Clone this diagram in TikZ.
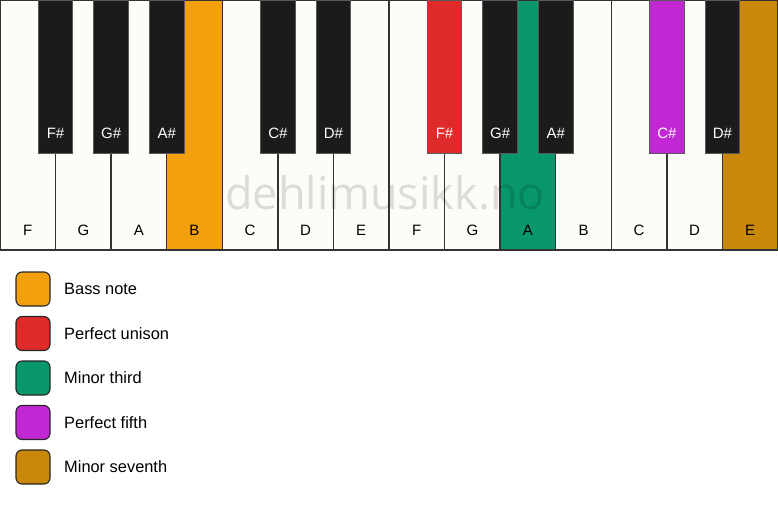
\documentclass[tikz,border=0pt]{standalone}
\usepackage{fontspec}
\setmainfont{Liberation Sans}
\newfontfamily\markfont{Open Sans}
\usetikzlibrary{positioning}

\definecolor{keywhite}{HTML}{FDFCF9}
\definecolor{keyblack}{HTML}{1C1B19}
\definecolor{bassnote}{HTML}{F3A00F}
\definecolor{unison}{HTML}{DF2A2A}
\definecolor{minthird}{HTML}{08976B}
\definecolor{perfifth}{HTML}{C227D4}
\definecolor{minseventh}{HTML}{C9880A}

\tikzset{
	whitekey/.style={draw=black!80, fill=keywhite, line width=1.3pt, inner sep=0pt, outer sep=0pt,
		minimum width=55.571pt, minimum height=250pt},
	blackkey/.style={draw=black!65, fill=keyblack, line width=0.8pt, inner sep=0pt, outer sep=0pt,
		minimum width=34.5pt, minimum height=153pt, anchor=north},
	whitetext/.style={text=black, font=\fontsize{15}{18}\selectfont},
	blacktext/.style={text=white, font=\fontsize{15}{18}\selectfont},
	legendbox/.style={draw=black!85, line width=1.1pt, rounded corners=6pt, minimum size=34pt, inner sep=0pt, outer sep=0pt},
	legendtext/.style={anchor=west, inner sep=0pt, font=\fontsize{16.4}{19}\selectfont},
	watermark/.style={text=black, text opacity=0.13, font=\markfont\fontsize{45}{50}\selectfont}
}

\begin{document}
\begin{tikzpicture}[x=1pt,y=-1pt]
	\useasboundingbox (0,0) rectangle (778,506);
	% white keys, left to right
	\foreach \n/\c [count=\i] in {F/keywhite, G/keywhite, A/keywhite, B/bassnote, C/keywhite, D/keywhite, E/keywhite,
		F/keywhite, G/keywhite, A/minthird, B/keywhite, C/keywhite, D/keywhite, E/minseventh}{
		\pgfmathtruncatemacro\prev{\i-1}
		\ifnum\i=1
			\node[whitekey, fill=\c, anchor=north west] (w1) at (0,0) {};
		\else
			\node[whitekey, fill=\c, right=0pt of w\prev] (w\i) {};
		\fi
		\node[whitetext] (t\i) at ([yshift=20pt]w\i.south) {\n};
	}
	% black keys sit on the boundaries
	\foreach \n/\k/\c in {F\#/1/keyblack, G\#/2/keyblack, A\#/3/keyblack, C\#/5/keyblack, D\#/6/keyblack,
		F\#/8/unison, G\#/9/keyblack, A\#/10/keyblack, C\#/12/perfifth, D\#/13/keyblack}{
		\node[blackkey, fill=\c] (b\k) at (w\k.north east) {};
		\node[blacktext] (s\k) at ([yshift=20pt]b\k.south) {\n};
	}
	\node[watermark] (mark) at (385,193) {dehlimusikk.no};
	% legend
	\node[legendbox, fill=bassnote] (l1) at (33,289) {};
	\node[legendbox, fill=unison, below=10.5pt of l1] (l2) {};
	\node[legendbox, fill=minthird, below=10.5pt of l2] (l3) {};
	\node[legendbox, fill=perfifth, below=10.5pt of l3] (l4) {};
	\node[legendbox, fill=minseventh, below=10.5pt of l4] (l5) {};
	\node[legendtext, right=14pt of l1] (n1) {Bass note};
	\node[legendtext, right=14pt of l2] (n2) {Perfect unison};
	\node[legendtext, right=14pt of l3] (n3) {Minor third};
	\node[legendtext, right=14pt of l4] (n4) {Perfect fifth};
	\node[legendtext, right=14pt of l5] (n5) {Minor seventh};
\end{tikzpicture}
\end{document}
